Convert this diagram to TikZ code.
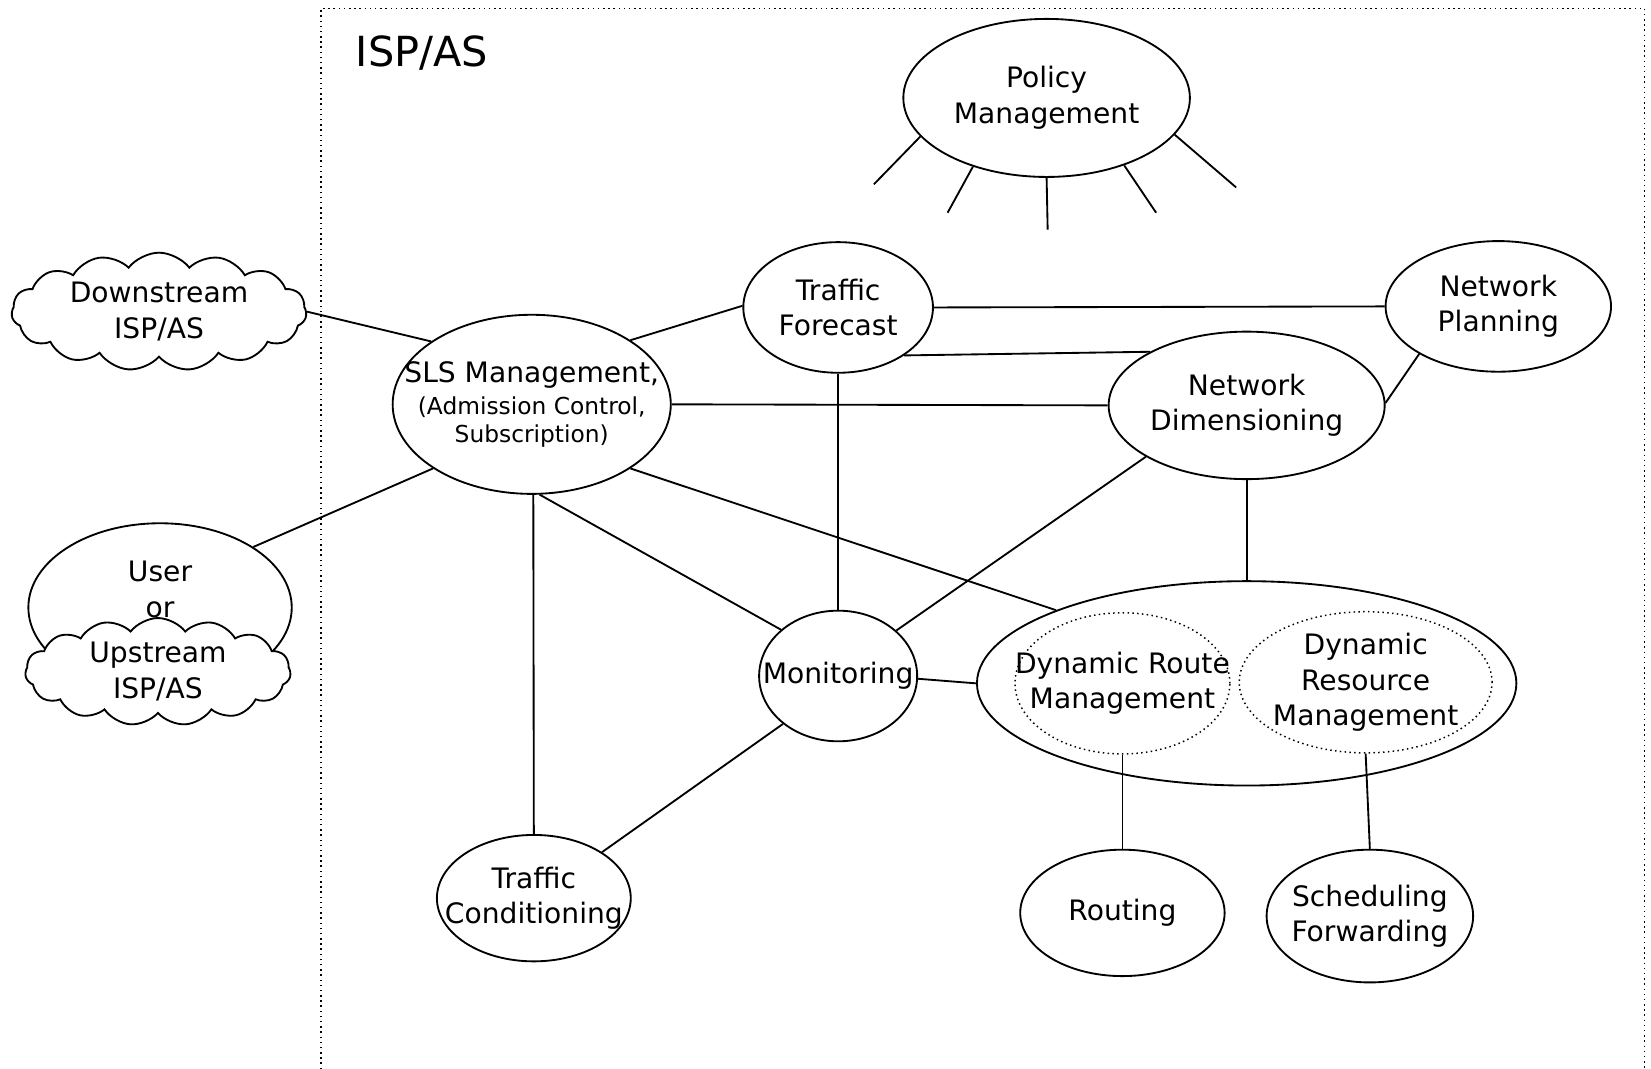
\documentclass[tikz,border=0pt]{standalone}
\usepackage{fontspec}
\setmainfont{DejaVu Sans}
\usetikzlibrary{shapes.geometric,shapes.symbols}
\newcommand{\smallf}{\fontsize{6.3}{7.7}\selectfont}

\begin{document}
\begin{tikzpicture}[x=0.01cm, y=-0.01cm, line width=0.5pt,
  oval/.style 2 args={draw, ellipse, inner sep=0pt, minimum width=#1cm, minimum height=#2cm},
  dotoval/.style 2 args={oval={#1}{#2}, line width=0.4pt, dash pattern=on 0.4pt off 0.9pt},
  puff/.style 2 args={draw, cloud, cloud puffs=15, cloud puff arc=105, cloud ignores aspect, fill=white, inner sep=0pt, minimum width=#1cm, minimum height=#2cm},
  txt/.style={align=center, inner sep=0pt, font=\fontsize{7.6}{9.6}\selectfont}]
\useasboundingbox (0,0) rectangle (1568,1015);

% ISP/AS frame
\draw[line width=0.4pt, densely dotted] (305,1040) -- (305,8) -- (1562,8) -- (1562,1040);
\node[anchor=base west, inner sep=0pt, font=\fontsize{11.2}{13}\selectfont] (title) at (337,63) {ISP/AS};

% policy management with its rays
\node[oval={2.72}{1.50}, label={[txt]center:Policy\\Management}] (pm) at (994,93) {};
\foreach \a/\x/\y [count=\i] in {197/830/175, 223/900/202, 270/995/218, 319/1098/202, 344/1174/178} {
  \coordinate (ray\i) at (\x,\y);
  \draw (pm.\a) -- (ray\i);
}

% outside the ISP
\node[puff={2.80}{1.12}, label={[txt]center:Downstream\\ISP/AS}] (down) at (151,296) {};
\node[oval={2.50}{1.60}, label={[txt, yshift=0.17cm]center:User\\or}] (user) at (152,577) {};
\node[puff={2.52}{1.02}, label={[txt]center:Upstream\\ISP/AS}] (up) at (150,638) {};

% inside the ISP
\node[oval={2.64}{1.70}, label={[txt]center:SLS Management,\\[-1pt]\smallf(Admission Control,\\[-2pt]\smallf Subscription)}] (sls) at (505,384) {};
\node[oval={1.80}{1.24}, label={[txt]center:Traffic\\Forecast}] (tf) at (796,292) {};
\node[oval={2.14}{1.24}, label={[txt]center:Network\\Planning}] (np) at (1423,291) {};
\node[oval={2.62}{1.40}, label={[txt]center:Network\\Dimensioning}] (nd) at (1184,385) {};
\node[oval={1.50}{1.24}, label={[txt]center:Monitoring}] (mon) at (796,642) {};
\node[oval={5.12}{1.94}] (big) at (1184,649) {};
\node[dotoval={2.04}{1.34}, label={[txt]center:Dynamic Route\\Management}] (drm) at (1066,649) {};
\node[dotoval={2.40}{1.34}, label={[txt]center:Dynamic\\Resource\\Management}] (dresm) at (1297,648) {};
\node[oval={1.84}{1.20}, label={[txt]center:Traffic\\Conditioning}] (tc) at (507,853) {};
\node[oval={1.94}{1.20}, label={[txt]center:Routing}] (rout) at (1066,867) {};
\node[oval={1.96}{1.26}, label={[txt]center:Scheduling\\Forwarding}] (sched) at (1301,870) {};

% links
\draw (down.east) -- (sls.148);
\draw (user.33) -- (sls.213);
\draw (sls.33) -- (tf.179);
\draw (sls.0) -- (nd.180);
\draw (sls.-33) -- (big.159);
\draw (sls.-85) -- (mon.141);
\draw (sls.-89) -- (tc.90);
\draw (tf.0) -- (np.180);
\draw (tf.-36) -- (nd.151);
\draw (tf.-90) -- (mon.90);
\draw (nd.1) -- (np.211);
\draw (nd.207) -- (mon.38);
\draw (nd.-90) -- (big.90);
\draw (mon.-2) -- (big.180);
\draw (mon.221) -- (tc.34);
\draw (drm.-90) -- (rout.90);
\draw (dresm.-90) -- (sched.90);

\end{tikzpicture}
\end{document}
